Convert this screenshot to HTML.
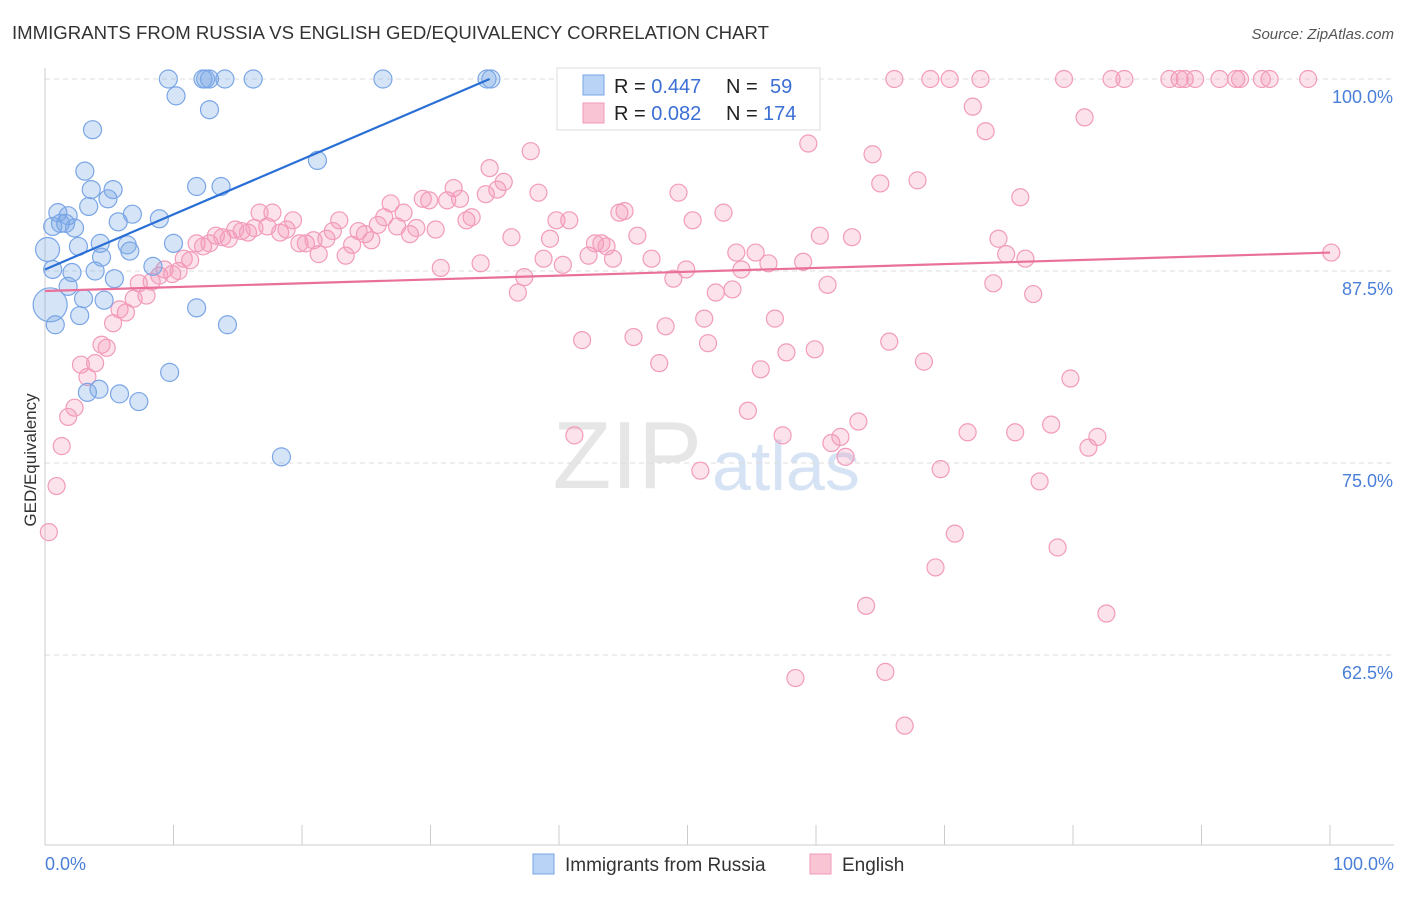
<!DOCTYPE html>
<html><head><meta charset="utf-8"><style>
body{margin:0;background:#fff;font-family:"Liberation Sans",sans-serif;}
svg text{font-family:"Liberation Sans",sans-serif;}
</style></head><body>
<svg id="chart" width="1406" height="892" xmlns="http://www.w3.org/2000/svg">
<text x="12" y="39" font-size="18.6" fill="#333">IMMIGRANTS FROM RUSSIA VS ENGLISH GED/EQUIVALENCY CORRELATION CHART</text>
<text x="1394" y="39" font-size="15" fill="#555" text-anchor="end" font-style="italic">Source: ZipAtlas.com</text>
<text x="702" y="488" font-size="96" fill="#e6e6e6" text-anchor="end" font-family="Liberation Serif">ZIP</text>
<text x="712" y="490" font-size="70" fill="#d6e3f4">atlas</text>
<g id="grid"></g>
<line x1="45" y1="68" x2="45" y2="845" stroke="#ccc"/>
<line x1="45" y1="845" x2="1394" y2="845" stroke="#ccc"/>
<text x="36" y="460" font-size="17" fill="#333" text-anchor="middle" transform="rotate(-90 36 460)">GED/Equivalency</text>
<text x="45" y="870" font-size="18" fill="#4a7fd8">0.0%</text>
<text x="1394" y="870" font-size="18" fill="#4a7fd8" text-anchor="end">100.0%</text>
<g id="pts"></g>
<g id="lines"></g>
<g>
<rect x="557" y="68" width="263" height="62" fill="#fff" stroke="#ddd"/>
<rect x="583" y="75" width="21" height="20" fill="#b8d3f5" stroke="#7aa6e6"/>
<rect x="583" y="103" width="21" height="20" fill="#f9c5d4" stroke="#f09ab8"/>
<text x="614" y="93" font-size="20" fill="#222">R = <tspan fill="#3b6fd4">0.447</tspan><tspan x="726">N = </tspan><tspan x="770" fill="#3b6fd4">59</tspan></text>
<text x="614" y="120" font-size="20" fill="#222">R = <tspan fill="#3b6fd4">0.082</tspan><tspan x="726">N = </tspan><tspan x="763" fill="#3b6fd4">174</tspan></text>
</g>
<g>
<rect x="533" y="854" width="21" height="20" fill="#b8d3f5" stroke="#7aa6e6"/>
<text x="565" y="871" font-size="19" fill="#333">Immigrants from Russia</text>
<rect x="810" y="854" width="21" height="20" fill="#f9c5d4" stroke="#f09ab8"/>
<text x="842" y="871" font-size="19" fill="#333">English</text>
</g>
</svg>
<script>
const yTicks=[100,87.5,75,62.5];
const yTickLabels=["100.0%","87.5%","75.0%","62.5%"];
const xTicks=[0,10,20,30,40,50,60,70,80,90,100];
const blueX=[9.6,12.3,12.5,12.8,14.0,16.2,26.3,34.4,34.7,10.2,12.8,3.7,21.2,3.1,3.6,5.3,11.8,13.7,4.9,3.4,1.0,1.8,6.8,5.7,8.9,1.6,1.2,2.3,0.6,0.2,2.6,4.3,6.4,6.6,10.0,4.4,2.1,3.9,8.4,5.4,1.8,3.0,4.6,0.4,2.7,11.8,0.8,14.2,9.7,3.3,4.2,5.8,7.3,18.4,0.6];
const blueY=[100,100,100,100,100,100,100,100,100,98.9,98.0,96.7,94.7,94.0,92.8,92.8,93.0,93.0,92.2,91.7,91.3,91.1,91.2,90.7,90.9,90.6,90.6,90.3,90.4,88.9,89.1,89.3,89.2,88.8,89.3,88.4,87.4,87.5,87.8,87.0,86.5,85.7,85.6,85.3,84.6,85.1,84.0,84.0,80.9,79.6,79.8,79.5,79.0,75.4,87.6];
const blueR=[9,9,9,9,9,9,9,9,9,9,9,9,9,9,9,9,9,9,9,9,9,9,9,9,9,9,9,9,9,12,9,9,9,9,9,9,9,9,9,9,9,9,9,17,9,9,9,9,9,9,9,9,9,9,9];
const pinkX=[66.1,68.9,70.4,72.8,79.3,83.0,84.0,87.5,88.3,88.7,89.5,91.4,92.7,93.0,94.7,95.3,98.3,
0.3,0.9,1.3,1.8,2.3,2.8,3.3,3.9,4.4,4.8,5.3,5.8,6.3,6.9,7.3,7.9,8.3,8.9,9.3,9.9,10.4,10.8,11.3,11.8,12.3,12.8,13.3,13.8,14.3,14.8,15.3,15.8,16.3,16.7,17.3,17.7,18.3,18.8,19.3,19.8,20.3,20.9,21.3,21.9,22.4,22.9,23.4,23.9,24.4,24.9,25.4,25.9,26.4,26.9,27.4,27.9,28.4,28.9,29.4,29.9,30.4,30.8,31.3,31.8,32.3,32.8,33.2,33.9,34.3,34.6,35.2,35.7,36.3,36.8,37.3,37.8,38.4,38.8,39.3,39.8,40.3,40.8,41.2,41.8,42.3,42.8,43.3,43.7,44.2,44.7,45.1,45.8,46.1,47.2,47.8,48.3,48.9,49.3,49.9,50.4,51.0,51.3,51.6,52.2,52.8,53.5,53.8,54.2,54.7,55.3,55.7,56.3,56.8,57.4,57.7,58.4,59.0,59.4,59.9,60.3,60.9,61.2,61.9,62.3,62.8,63.3,63.9,64.4,65.0,65.4,65.7,66.9,67.9,68.4,69.3,69.7,70.8,71.8,72.2,73.2,73.8,74.2,74.8,75.5,75.9,76.3,76.9,77.4,78.3,78.8,79.8,80.9,81.2,81.9,82.6,100.1];
const pinkY=[100,100,100,100,100,100,100,100,100,100,100,100,100,100,100,100,100,
70.5,73.5,76.1,78.0,78.6,81.4,80.6,81.5,82.7,82.5,84.1,85.0,84.8,85.7,86.7,85.9,86.8,87.2,87.6,87.3,87.5,88.3,88.2,89.3,89.1,89.3,89.8,89.7,89.6,90.2,90.1,90.0,90.3,91.3,90.4,91.3,90.0,90.2,90.8,89.3,89.3,89.5,88.6,89.6,90.1,90.8,88.5,89.2,90.1,89.9,89.5,90.5,91.0,91.9,90.4,91.3,89.9,90.3,92.2,92.1,90.2,87.7,92.1,92.9,92.2,90.8,91.0,88.0,92.5,94.2,92.8,93.3,89.7,86.1,87.1,95.3,92.6,88.3,89.6,90.8,87.9,90.8,76.8,83.0,88.5,89.3,89.3,89.1,88.3,91.3,91.4,83.2,89.8,88.3,81.5,83.9,87.0,92.6,87.6,90.8,74.5,84.4,82.8,86.1,91.3,86.3,88.7,87.6,78.4,88.7,81.1,88.0,84.4,76.8,82.2,61.0,88.1,95.8,82.4,89.8,86.6,76.3,76.7,75.4,89.7,77.7,65.7,95.1,93.2,61.4,82.9,57.9,93.4,81.6,68.2,74.6,70.4,77.0,98.2,96.6,86.7,89.6,88.6,77.0,92.3,88.3,86.0,73.8,77.5,69.5,80.5,97.5,76.0,76.7,65.2,88.7];
const blueTrend=[[0,87.6],[34.6,100]];
const pinkTrend=[[0,86.2],[100,88.7]];
const NS="http://www.w3.org/2000/svg";
const xs=v=>45+v*12.85, ys=v=>79+(100-v)*15.36;
const grid=document.getElementById('grid');
yTicks.forEach((t,i)=>{
 const l=document.createElementNS(NS,'line');
 l.setAttribute('x1',45);l.setAttribute('x2',1394);l.setAttribute('y1',ys(t));l.setAttribute('y2',ys(t));
 l.setAttribute('stroke','#ddd');l.setAttribute('stroke-dasharray','5,4');
 
 
 grid.appendChild(l);
 const tx=document.createElementNS(NS,'text');
 tx.setAttribute('x',1393);tx.setAttribute('y',ys(t)+24);tx.setAttribute('text-anchor','end');
 tx.setAttribute('font-size','18');tx.setAttribute('fill','#4a7fd8');tx.textContent=yTickLabels[i];
 
 
 grid.appendChild(tx);
});
xTicks.forEach(t=>{
 const l=document.createElementNS(NS,'line');
 l.setAttribute('x1',xs(t));l.setAttribute('x2',xs(t));l.setAttribute('y1',825);l.setAttribute('y2',845);
 l.setAttribute('stroke','#ccc');
 
 
 grid.appendChild(l);
});
const pts=document.getElementById('pts');
pinkX.forEach((x,i)=>{
 const c=document.createElementNS(NS,'circle');
 c.setAttribute('cx',xs(x));c.setAttribute('cy',ys(pinkY[i]));c.setAttribute('r',8.5);
 c.setAttribute('fill','rgba(244,150,182,0.28)');c.setAttribute('stroke','#f29bbb');c.setAttribute('stroke-width','1.2');
 
 
 pts.appendChild(c);
});
blueX.forEach((x,i)=>{
 const c=document.createElementNS(NS,'circle');
 c.setAttribute('cx',xs(x));c.setAttribute('cy',ys(blueY[i]));c.setAttribute('r',blueR[i]);
 c.setAttribute('fill','rgba(120,165,230,0.3)');c.setAttribute('stroke','#7aa6e6');c.setAttribute('stroke-width','1.2');
 
 
 pts.appendChild(c);
});
const lines=document.getElementById('lines');
[[blueTrend,'#2a6fd6','russia-trend-line'],[pinkTrend,'#e8709a','english-trend-line']].forEach(([t,col,n])=>{
 const l=document.createElementNS(NS,'line');
 l.setAttribute('x1',xs(t[0][0]));l.setAttribute('y1',ys(t[0][1]));
 l.setAttribute('x2',xs(t[1][0]));l.setAttribute('y2',ys(t[1][1]));
 l.setAttribute('stroke',col);l.setAttribute('stroke-width','2.2');
 
 
 lines.appendChild(l);
});
</script>
</body></html>
